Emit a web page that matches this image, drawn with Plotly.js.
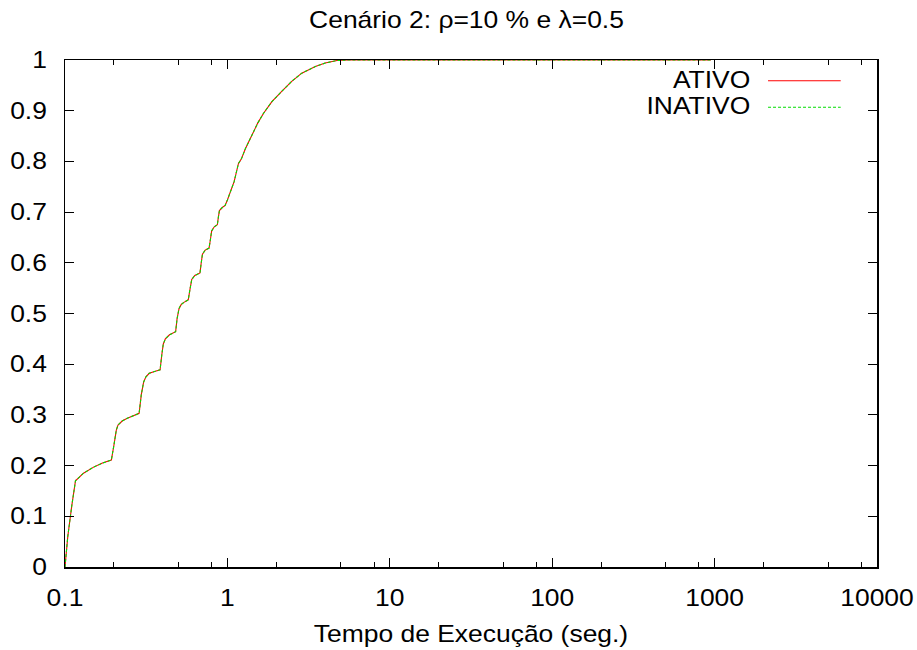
<!DOCTYPE html>
<html>
<head>
<meta charset="utf-8">
<script src="https://cdn.plot.ly/plotly-3.0.1.min.js"></script>
<style>html,body{margin:0;padding:0;background:#fff;}#chart{width:917px;height:650px;}</style>
</head>
<body>
<div id="chart"></div>
<script>
// Execution time (s) and cumulative fraction
const tempo = [0.1, 0.104, 0.11, 0.116, 0.13, 0.15, 0.17, 0.193, 0.2, 0.207, 0.212, 0.225, 0.24, 0.27, 0.286, 0.295, 0.305, 0.315, 0.33, 0.36, 0.385, 0.395, 0.403, 0.415, 0.44, 0.48, 0.49, 0.504, 0.52, 0.54, 0.574, 0.59, 0.603, 0.63, 0.678, 0.69, 0.702, 0.73, 0.771, 0.785, 0.80, 0.83, 0.867, 0.88, 0.893, 0.93, 0.968, 1.0, 1.06, 1.1, 1.17, 1.22, 1.29, 1.35, 1.41, 1.48, 1.54, 1.67, 1.88, 2.16, 2.49, 2.87, 3.48, 4.0, 4.73, 5.58, 20, 100, 400, 950];
const ativo = [0.0, 0.06, 0.12, 0.17, 0.185, 0.197, 0.205, 0.211, 0.24, 0.27, 0.280, 0.288, 0.293, 0.300, 0.303, 0.34, 0.365, 0.375, 0.382, 0.386, 0.389, 0.42, 0.44, 0.450, 0.458, 0.464, 0.49, 0.510, 0.518, 0.522, 0.527, 0.55, 0.567, 0.575, 0.580, 0.60, 0.617, 0.625, 0.629, 0.645, 0.663, 0.671, 0.675, 0.69, 0.703, 0.709, 0.713, 0.724, 0.745, 0.76, 0.796, 0.805, 0.825, 0.838, 0.850, 0.865, 0.876, 0.895, 0.918, 0.938, 0.958, 0.974, 0.987, 0.994, 0.999, 1.0, 1.0, 1.0, 1.0, 1.0];
const inativo = [0.0, 0.06, 0.12, 0.17, 0.185, 0.197, 0.205, 0.211, 0.24, 0.27, 0.280, 0.288, 0.293, 0.300, 0.303, 0.34, 0.365, 0.375, 0.382, 0.386, 0.389, 0.42, 0.44, 0.450, 0.458, 0.464, 0.49, 0.510, 0.518, 0.522, 0.527, 0.55, 0.567, 0.575, 0.580, 0.60, 0.617, 0.625, 0.629, 0.645, 0.663, 0.671, 0.675, 0.69, 0.703, 0.709, 0.713, 0.724, 0.745, 0.76, 0.796, 0.805, 0.825, 0.838, 0.850, 0.865, 0.876, 0.895, 0.918, 0.938, 0.958, 0.974, 0.987, 0.994, 0.999, 1.0, 1.0, 1.0, 1.0, 1.0];
const seriesNames = ['ATIVO', 'INATIVO'];
const xTickVals = [0.1, 1, 10, 100, 1000, 10000];
const xTickText = ['0.1', '1', '10', '100', '1000', '10000'];
const xMinorVals = [0.2, 0.5, 0.8, 2, 5, 8, 20, 50, 80, 200, 500, 800, 2000, 5000, 8000];
const yTickVals = [0, 0.1, 0.2, 0.3, 0.4, 0.5, 0.6, 0.7, 0.8, 0.9, 1];
const yTickText = ['0', '0.1', '0.2', '0.3', '0.4', '0.5', '0.6', '0.7', '0.8', '0.9', '1'];

const FONT = 'Liberation Sans, Arial, sans-serif';
const FS = 23;
const red = '#ff0000';
const green = '#00dd00';

const traces = [
  {x: tempo, y: ativo, name: seriesNames[0], type: 'scatter', mode: 'lines',
   line: {color: red, width: 1.1}},
  {x: tempo, y: inativo, name: seriesNames[1], type: 'scatter', mode: 'lines',
   line: {color: green, width: 1.1, dash: '3px,2px'}}
];

const layout = {
  width: 917, height: 650,
  margin: {l: 65, r: 40, t: 60, b: 83},
  paper_bgcolor: '#fff', plot_bgcolor: '#fff',
  showlegend: false,
  font: {family: FONT, color: '#000', size: FS},
  title: {text: 'Cenário 2: ρ=10 % e λ=0.5', font: {family: FONT, size: FS, color: '#000'},
          x: 466.5 / 917, xref: 'container', xanchor: 'center', y: 1 - 20 / 650, yref: 'container', yanchor: 'middle'},
  xaxis: {
    type: 'log', range: [-1, 4],
    tickmode: 'array', tickvals: xTickVals, ticktext: xTickText,
    ticks: 'inside', ticklen: 9, tickwidth: 1, tickcolor: '#000',
    ticklabelstandoff: 10,
    minor: {tickmode: 'array', tickvals: xMinorVals, ticks: 'inside', ticklen: 5, tickwidth: 1, tickcolor: '#000', showgrid: false},
    showline: true, linecolor: '#000', linewidth: 1.5, mirror: 'allticks',
    showgrid: false, zeroline: false,
    tickfont: {family: FONT, size: FS, color: '#000'},
    title: {text: 'Tempo de Execução (seg.)', font: {family: FONT, size: FS, color: '#000'}, standoff: 16}
  },
  yaxis: {
    range: [0, 1],
    tickmode: 'array', tickvals: yTickVals, ticktext: yTickText,
    ticks: 'inside', ticklen: 9, tickwidth: 1, tickcolor: '#000',
    ticklabelstandoff: 12,
    showline: true, linecolor: '#000', linewidth: 1.5, mirror: 'allticks',
    showgrid: false, zeroline: false,
    tickfont: {family: FONT, size: FS, color: '#000'}
  },
  annotations: [
    {text: seriesNames[0], xref: 'paper', yref: 'paper', x: 0.846, y: 0.9606, xanchor: 'right', yanchor: 'middle',
     showarrow: false, font: {family: FONT, size: FS, color: '#000'}},
    {text: seriesNames[1], xref: 'paper', yref: 'paper', x: 0.846, y: 0.9083, xanchor: 'right', yanchor: 'middle',
     showarrow: false, font: {family: FONT, size: FS, color: '#000'}}
  ],
  shapes: [
    {type: 'line', xref: 'paper', yref: 'paper', x0: 0.8658, x1: 0.9553, y0: 0.959, y1: 0.959,
     line: {color: red, width: 1.1}},
    {type: 'line', xref: 'paper', yref: 'paper', x0: 0.8658, x1: 0.9553, y0: 0.9067, y1: 0.9067,
     line: {color: green, width: 1.1, dash: '3px,2px'}}
  ]
};

// gnuplot's text is slightly wider than Arial; stretch glyphs horizontally
function stretchText(gd, sx) {
  const texts = gd.querySelectorAll('svg text');
  texts.forEach(function (t) {
    try {
      const bb = t.getBBox();
      if (!bb || bb.width === 0) return;
      let px = bb.x + bb.width / 2;
      if (t.closest('.ytick')) px = bb.x + bb.width;
      if (t.classList.contains('annotation-text')) px = bb.x + bb.width;
      const prev = t.getAttribute('transform') || '';
      t.setAttribute('transform', prev + ' translate(' + px + ',0) scale(' + sx + ',1) translate(' + (-px) + ',0)');
    } catch (e) {}
  });
}

Plotly.newPlot('chart', traces, layout, {displayModeBar: false, staticPlot: true})
  .then(function (gd) { stretchText(gd, 1.15); });
</script>
</body>
</html>
